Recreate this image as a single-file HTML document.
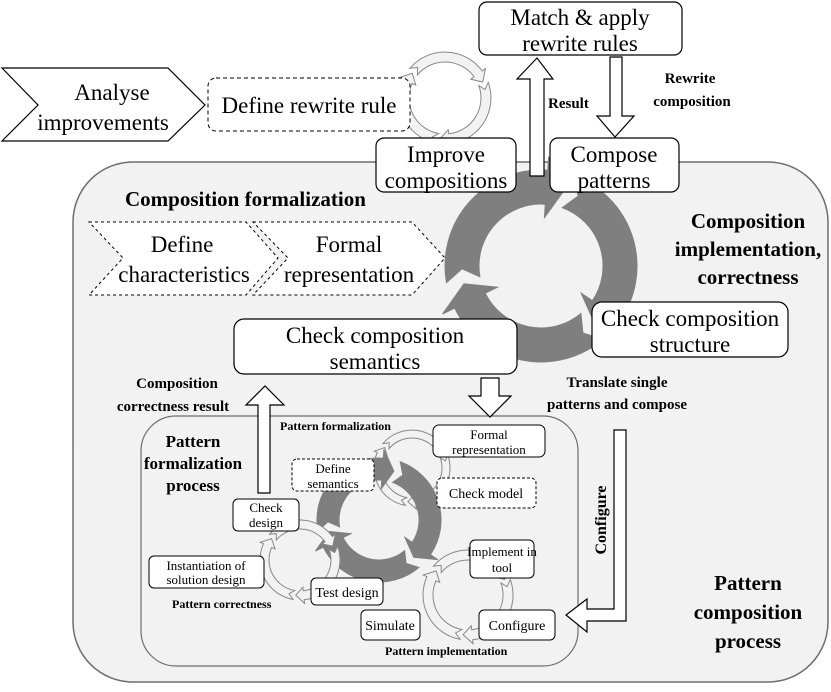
<!DOCTYPE html>
<html><head><meta charset="utf-8"><style>
html,body{margin:0;padding:0;background:#fff;}
svg, svg text{font-family:"Liberation Serif","DejaVu Serif","Noto Serif CJK SC",serif !important;}
</style></head><body>
<svg id="s" width="831" height="687" viewBox="0 0 831 687" xmlns="http://www.w3.org/2000/svg">
<rect x="73" y="162" width="755" height="520" rx="60" fill="#f2f2f2" stroke="#6e6e6e" stroke-width="1.5"/>
<g id="rings"></g>
<rect x="141" y="416" width="437" height="250" rx="35" fill="#f2f2f2" stroke="#6e6e6e" stroke-width="1.2"/>
<g id="rings2"></g>
<g>
<polygon points="2,68 168,68 205,105 168,141 2,141 38,105" fill="#fff" stroke="#000" stroke-width="1.2"/>
<text x="112" y="100" font-size="23" text-anchor="middle">Analyse</text>
<text x="103" y="130" font-size="23" text-anchor="middle">improvements</text>
<rect x="208" y="78" width="202" height="53" rx="8" fill="#fff" stroke="#000" stroke-dasharray="4,3"/>
<text x="309" y="113" font-size="23" text-anchor="middle">Define rewrite rule</text>

<rect x="479" y="2" width="203" height="53" rx="8" fill="#fff" stroke="#000" stroke-width="1.2"/>
<text x="580" y="25" font-size="23" text-anchor="middle">Match &amp; apply</text>
<text x="580" y="51" font-size="23" text-anchor="middle">rewrite rules</text>

<polygon points="530,176 544,176 544,79 553,79 537,58 517,79 530,79" fill="#fff" stroke="#000" stroke-width="1.2"/>
<text x="548" y="108" font-size="15" font-weight="bold">Result</text>
<polygon points="610,57 622,57 622,116 634,116 615,137 597,116 610,116" fill="#fff" stroke="#000" stroke-width="1.2"/>
<text x="690" y="83" font-size="15" font-weight="bold" text-anchor="middle">Rewrite</text>
<text x="692" y="106" font-size="15" font-weight="bold" text-anchor="middle">composition</text>

<rect x="376" y="138" width="140" height="54" rx="8" fill="#fff" stroke="#000" stroke-width="1.2"/>
<text x="446" y="162" font-size="23" text-anchor="middle">Improve</text>
<text x="446" y="188" font-size="23" text-anchor="middle">compositions</text>
<rect x="550" y="138" width="129" height="54" rx="8" fill="#fff" stroke="#000" stroke-width="1.2"/>
<text x="614" y="162" font-size="23" text-anchor="middle">Compose</text>
<text x="614" y="188" font-size="23" text-anchor="middle">patterns</text>

<text x="125" y="206" font-size="21" font-weight="bold">Composition formalization</text>

<polygon points="89,222 246,222 278,258 246,295 89,295 123,258" fill="#fff" stroke="#000" stroke-dasharray="3,3"/>
<polygon points="253,222 412,222 445,258 412,295 253,295 288,258" fill="#fff" stroke="#000" stroke-dasharray="3,3"/>
<text x="182" y="252" font-size="23" text-anchor="middle">Define</text>
<text x="184" y="282" font-size="23" text-anchor="middle">characteristics</text>
<text x="349" y="252" font-size="23" text-anchor="middle">Formal</text>
<text x="349" y="282" font-size="23" text-anchor="middle">representation</text>

<text x="748" y="228" font-size="21" font-weight="bold" text-anchor="middle">Composition</text>
<text x="748" y="256" font-size="21" font-weight="bold" text-anchor="middle">implementation,</text>
<text x="748" y="284" font-size="21" font-weight="bold" text-anchor="middle">correctness</text>

<rect x="592" y="302" width="196" height="55" rx="10" fill="#fff" stroke="#000" stroke-width="1.2"/>
<text x="690" y="326" font-size="23" text-anchor="middle">Check composition</text>
<text x="690" y="352" font-size="23" text-anchor="middle">structure</text>
<rect x="234" y="319" width="283" height="55" rx="10" fill="#fff" stroke="#000" stroke-width="1.2"/>
<text x="375" y="343" font-size="23" text-anchor="middle">Check composition</text>
<text x="375" y="369" font-size="23" text-anchor="middle">semantics</text>

<polygon points="481,378 499,378 499,396 511,396 490,417 469,396 481,396" fill="#fff" stroke="#000" stroke-width="1.2"/>
<text x="617" y="387" font-size="15" font-weight="bold" text-anchor="middle">Translate single</text>
<text x="617" y="409" font-size="15" font-weight="bold" text-anchor="middle">patterns and compose</text>
<text x="177" y="388" font-size="15" font-weight="bold" text-anchor="middle">Composition</text>
<text x="173" y="411" font-size="15" font-weight="bold" text-anchor="middle">correctness result</text>
<polygon points="258,493 270,493 270,405 284,405 265,386 246,405 258,405" fill="#fff" stroke="#000" stroke-width="1.2"/>

<polygon points="614,430 626,430 626,621 587,621 587,632 566,615 587,599 587,609 614,609" fill="#fff" stroke="#000" stroke-width="1.2"/>
<text transform="translate(606,520) rotate(-90)" font-size="16" font-weight="bold" text-anchor="middle">Configure</text>

<text x="748" y="590" font-size="21" font-weight="bold" text-anchor="middle">Pattern</text>
<text x="748" y="619" font-size="21" font-weight="bold" text-anchor="middle">composition</text>
<text x="748" y="648" font-size="21" font-weight="bold" text-anchor="middle">process</text>

<text x="193" y="447" font-size="17" font-weight="bold" text-anchor="middle">Pattern</text>
<text x="193" y="469" font-size="17" font-weight="bold" text-anchor="middle">formalization</text>
<text x="193" y="491" font-size="17" font-weight="bold" text-anchor="middle">process</text>
<text x="280" y="430" font-size="12" font-weight="bold">Pattern formalization</text>
<text x="172" y="608" font-size="12" font-weight="bold">Pattern correctness</text>
<text x="385" y="655" font-size="12" font-weight="bold">Pattern implementation</text>

<rect x="433" y="425" width="112" height="32" rx="6" fill="#fff" stroke="#000"/>
<text x="489" y="439" font-size="13" text-anchor="middle">Formal</text>
<text x="489" y="454" font-size="13" text-anchor="middle">representation</text>
<rect x="292" y="459" width="82" height="32" rx="5" fill="#fff" stroke="#000" stroke-dasharray="3,2"/>
<text x="333" y="473" font-size="13" text-anchor="middle">Define</text>
<text x="333" y="488" font-size="13" text-anchor="middle">semantics</text>
<rect x="437" y="478" width="99" height="30" rx="5" fill="#fff" stroke="#000" stroke-dasharray="3,2"/>
<text x="486" y="498" font-size="14" text-anchor="middle">Check model</text>
<rect x="233" y="499" width="66" height="32" rx="5" fill="#fff" stroke="#000"/>
<text x="266" y="512" font-size="13" text-anchor="middle">Check</text>
<text x="266" y="527" font-size="13" text-anchor="middle">design</text>
<rect x="149" y="556" width="115" height="32" rx="5" fill="#fff" stroke="#000"/>
<text x="206" y="570" font-size="13" text-anchor="middle">Instantiation of</text>
<text x="206" y="584" font-size="13" text-anchor="middle">solution design</text>
<rect x="311" y="578" width="72" height="27" rx="5" fill="#fff" stroke="#000"/>
<text x="347" y="597" font-size="14" text-anchor="middle">Test design</text>
<rect x="470" y="540" width="64" height="38" rx="5" fill="#fff" stroke="#000"/>
<text x="502" y="556" font-size="13" text-anchor="middle">Implement in</text>
<text x="502" y="572" font-size="13" text-anchor="middle">tool</text>
<rect x="361" y="610" width="59" height="30" rx="5" fill="#fff" stroke="#000"/>
<text x="390" y="630" font-size="14" text-anchor="middle">Simulate</text>
<rect x="479" y="610" width="76" height="30" rx="5" fill="#fff" stroke="#000"/>
<text x="517" y="630" font-size="14" text-anchor="middle">Configure</text>
</g>
</svg>
<script>
function ring(g,cx,cy,ro,ri,start,fill,stroke){
  var d="";var rm=(ro+ri)/2,w=(ro-ri);
  function P(r,a){a=a*Math.PI/180;return (cx+r*Math.cos(a)).toFixed(1)+","+(cy+r*Math.sin(a)).toFixed(1);}
  for(var k=0;k<3;k++){
    var a0=start+k*120, a1=a0+104, at=a1+13;
    d+="M"+P(ro,a0)+" A"+ro+","+ro+" 0 0 1 "+P(ro,a1)+" L"+P(ro+w*0.4,a1)+" L"+P(rm,at)+" L"+P(ri-w*0.4,a1)+" L"+P(ri,a1)+" A"+ri+","+ri+" 0 0 0 "+P(ri,a0)+" L"+P(rm,a0+8)+" Z ";
  }
  var p=document.createElementNS("http://www.w3.org/2000/svg","path");
  p.setAttribute("d",d);p.setAttribute("fill",fill);p.setAttribute("stroke",stroke);p.setAttribute("stroke-width","1");
  document.getElementById(g).appendChild(p);
}
ring("rings",445,98,46,36,-20,"#f2f2f2","#888");
ring("rings",541,266,96,62,-70,"#7f7f7f","#7f7f7f");
ring("rings2",412,468,38,30,-20,"#f2f2f2","#888");
ring("rings2",379,520,62,40,-70,"#7f7f7f","#7f7f7f");
ring("rings2",300,560,40,31,-20,"#f2f2f2","#888");
ring("rings2",468,595,45,35,-20,"#f2f2f2","#888");
</script>
</body></html>
